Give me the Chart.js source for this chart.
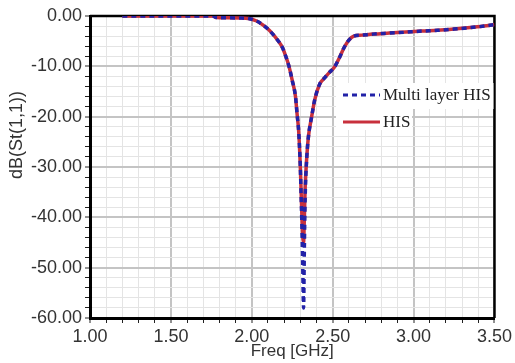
<!DOCTYPE html>
<html>
<head>
<meta charset="utf-8">
<script src="https://cdn.jsdelivr.net/npm/chart.js@4.4.0/dist/chart.umd.min.js"></script>
<style>
html,body{margin:0;padding:0;background:#fff;}
#wrap{width:515px;height:363px;position:relative;}
</style>
</head>
<body>
<div id="wrap"><canvas id="c" width="515" height="363"></canvas></div>
<script>
const seriesNames = ['Multi layer HIS', 'HIS'];
const freq = [1.20,1.30,1.40,1.50,1.60,1.70,1.76,1.78,1.85,1.92,1.98,2.03,2.07,2.10,2.13,2.16,2.19,2.21,2.23,2.25,2.27,2.28,2.29,2.30,2.305,2.31,2.315,2.32,2.325,2.33,2.34,2.35,2.37,2.39,2.42,2.45,2.48,2.51,2.54,2.57,2.60,2.63,2.68,2.75,2.85,2.95,3.05,3.15,3.25,3.35,3.45,3.50];
const multiLayer = [0,0,0,0,0,0,0,-0.3,-0.35,-0.4,-0.5,-1.0,-1.8,-2.6,-3.6,-4.8,-6.3,-8.0,-10.0,-12.8,-16.0,-19.5,-23.0,-30.0,-36.0,-42.0,-50.0,-58.0,-46.0,-36.0,-28.0,-24.0,-20.0,-16.5,-13.5,-12.3,-11.2,-10.2,-8.4,-6.3,-4.8,-4.0,-3.8,-3.6,-3.4,-3.2,-3.0,-2.85,-2.6,-2.3,-1.95,-1.7];
const his = [0,0,0,0,0,0,0,-0.3,-0.35,-0.4,-0.5,-1.0,-1.8,-2.6,-3.6,-4.8,-6.3,-8.0,-10.0,-12.8,-16.0,-19.5,-23.0,-30.0,-35.0,-40.0,-44.0,-45.0,-40.0,-34.0,-28.0,-24.0,-20.0,-16.5,-13.5,-12.3,-11.2,-10.2,-8.4,-6.3,-4.8,-4.0,-3.8,-3.6,-3.4,-3.2,-3.0,-2.85,-2.6,-2.3,-1.95,-1.7];
const xTitle = 'Freq [GHz]';
const yTitle = 'dB(St(1,1))';

const BLUE = '#2222a8';
const RED = '#c8303c';
const FONT = "'Liberation Sans', Arial, sans-serif";

const toPts = (xs, ys) => xs.map((x, i) => ({x: x, y: ys[i]}));

const isMajorX = v => Math.abs(Math.round(v * 10) % 5) === 0;
const isMajorY = v => Math.abs(Math.round(v)) % 10 === 0;

const extras = {
  id: 'extras',
  beforeDatasetsDraw(chart) {
    const {ctx, chartArea: a} = chart;
    ctx.save();
    ctx.strokeStyle = '#000';
    ctx.lineWidth = 2.5;
    ctx.beginPath();
    ctx.moveTo(a.left, a.top);
    ctx.lineTo(a.right, a.top);
    ctx.lineTo(a.right, a.bottom);
    ctx.stroke();
    ctx.fillStyle = '#fff';
    ctx.fillRect(336, 83, a.right - 337, 26);
    ctx.fillRect(336, 109, 76, 21);
    ctx.restore();
  },
  afterDatasetsDraw(chart) {
    const {ctx, chartArea: a} = chart;
    ctx.save();
    const rows = [95, 122];
    chart.data.datasets.forEach((ds, i) => {
      const y = rows[i];
      ctx.strokeStyle = ds.borderColor;
      ctx.lineWidth = 3;
      ctx.setLineDash(ds.borderDash || []);
      ctx.beginPath();
      ctx.moveTo(343, y);
      ctx.lineTo(380, y);
      ctx.stroke();
      ctx.setLineDash([]);
      ctx.fillStyle = '#222';
      ctx.font = "17px 'Liberation Serif', 'Times New Roman', serif";
      ctx.textAlign = 'left';
      ctx.textBaseline = 'middle';
      ctx.fillText(ds.label, 383, y + 1);
    });
    ctx.fillStyle = '#333';
    ctx.font = '17px ' + FONT;
    ctx.textAlign = 'center';
    ctx.textBaseline = 'middle';
    ctx.fillText(xTitle, (a.left + a.right) / 2, 351);
    ctx.font = '18px ' + FONT;
    ctx.translate(17, 135);
    ctx.rotate(-Math.PI / 2);
    ctx.fillText(yTitle, 0, 0);
    ctx.restore();
  }
};

new Chart(document.getElementById('c'), {
  type: 'line',
  data: {
    datasets: [
      {label: seriesNames[0], data: toPts(freq, multiLayer), borderColor: BLUE, borderWidth: 3.5, borderDash: [5, 4], pointRadius: 0, cubicInterpolationMode: 'monotone', fill: false},
      {label: seriesNames[1], data: toPts(freq, his), borderColor: RED, borderWidth: 3.5, pointRadius: 0, cubicInterpolationMode: 'monotone', fill: false}
    ]
  },
  options: {
    responsive: false,
    animation: false,
    layout: {padding: {left: 0, top: 16, right: 18, bottom: 0}},
    plugins: {legend: {display: false}, tooltip: {enabled: false}},
    scales: {
      x: {
        type: 'linear', min: 1, max: 3.5,
        afterFit: s => { s.height = 45; },
        ticks: {
          stepSize: 0.1, autoSkip: false, maxRotation: 0, minRotation: 0, padding: 3,
          color: '#333', font: {size: 18, family: FONT},
          callback: v => isMajorX(v) ? Number(v).toFixed(2) : ''
        },
        grid: {
          color: c => (c.tick && isMajorX(c.tick.value)) ? '#c4c4c4' : '#e4e4e4',
          lineWidth: c => (c.tick && isMajorX(c.tick.value)) ? 2 : 1,
          tickColor: '#222', tickLength: 5, tickWidth: 1
        },
        border: {color: '#000', width: 3}
      },
      y: {
        type: 'linear', min: -60, max: 0,
        afterFit: s => { s.width = 90; },
        ticks: {
          stepSize: 2, autoSkip: false, padding: 3,
          color: '#333', font: {size: 18, family: FONT},
          callback: v => isMajorY(v) ? Number(v).toFixed(2) : ''
        },
        grid: {
          color: c => (c.tick && isMajorY(c.tick.value)) ? '#c4c4c4' : '#e4e4e4',
          lineWidth: c => (c.tick && isMajorY(c.tick.value)) ? 2 : 1,
          tickColor: '#222', tickLength: 5, tickWidth: 1
        },
        border: {color: '#000', width: 3}
      }
    }
  },
  plugins: [extras]
});
</script>
</body>
</html>
